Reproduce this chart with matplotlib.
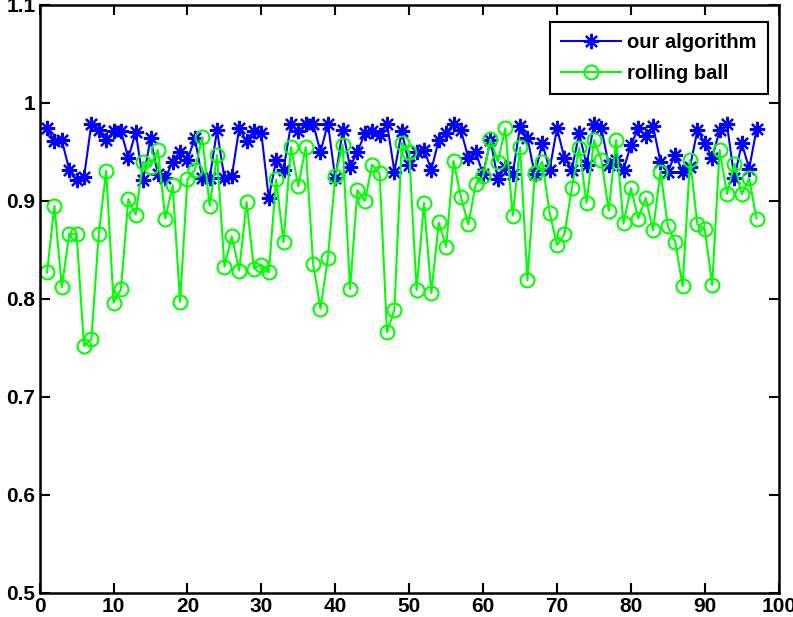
import numpy as np
import matplotlib

matplotlib.use("Agg")
import matplotlib.pyplot as plt

# sample index 1..97
frames = list(range(1, 98))

our_algorithm = [
    0.974, 0.961, 0.962, 0.932, 0.921, 0.924, 0.979, 0.972, 0.962, 0.971,
    0.971, 0.944, 0.970, 0.921, 0.964, 0.927, 0.923, 0.940, 0.950, 0.942,
    0.964, 0.923, 0.923, 0.972, 0.923, 0.925, 0.974, 0.961, 0.971, 0.969,
    0.903, 0.942, 0.932, 0.978, 0.971, 0.978, 0.979, 0.950, 0.979, 0.923,
    0.972, 0.935, 0.950, 0.969, 0.971, 0.967, 0.979, 0.930, 0.971, 0.937,
    0.950, 0.952, 0.932, 0.962, 0.969, 0.979, 0.972, 0.944, 0.950, 0.927,
    0.962, 0.922, 0.935, 0.927, 0.976, 0.964, 0.927, 0.959, 0.932, 0.974,
    0.944, 0.932, 0.969, 0.937, 0.978, 0.974, 0.937, 0.942, 0.932, 0.957,
    0.974, 0.966, 0.976, 0.940, 0.930, 0.947, 0.930, 0.935, 0.972, 0.959,
    0.944, 0.972, 0.978, 0.923, 0.959, 0.933, 0.973,
]

rolling_ball = [
    0.827, 0.895, 0.812, 0.866, 0.866, 0.752, 0.759, 0.866, 0.931, 0.796,
    0.810, 0.902, 0.886, 0.940, 0.935, 0.952, 0.882, 0.916, 0.797, 0.922,
    0.932, 0.965, 0.895, 0.947, 0.833, 0.864, 0.829, 0.899, 0.831, 0.835,
    0.827, 0.922, 0.858, 0.955, 0.915, 0.955, 0.836, 0.790, 0.842, 0.925,
    0.957, 0.810, 0.911, 0.900, 0.937, 0.928, 0.766, 0.789, 0.959, 0.950,
    0.809, 0.898, 0.806, 0.878, 0.853, 0.941, 0.904, 0.876, 0.917, 0.925,
    0.963, 0.940, 0.974, 0.885, 0.955, 0.819, 0.928, 0.940, 0.888, 0.855,
    0.866, 0.913, 0.954, 0.898, 0.962, 0.942, 0.890, 0.962, 0.877, 0.913,
    0.882, 0.903, 0.870, 0.930, 0.874, 0.858, 0.813, 0.942, 0.876, 0.871,
    0.814, 0.952, 0.907, 0.938, 0.907, 0.923, 0.882,
]

x_ticks = [0, 10, 20, 30, 40, 50, 60, 70, 80, 90, 100]
y_ticks = [0.5, 0.6, 0.7, 0.8, 0.9, 1.0, 1.1]
y_labels = ["0.5", "0.6", "0.7", "0.8", "0.9", "1", "1.1"]

plt.rcParams["font.family"] = ["Liberation Sans Narrow", "Liberation Sans", "DejaVu Sans"]
plt.rcParams["font.weight"] = "bold"

fig = plt.figure(figsize=(7.93, 6.17), dpi=100)
ax = fig.add_axes([0.05, 0.039, 0.932, 0.953])

# matlab style '*' marker: eight spokes
ax.plot(frames, our_algorithm, color="#0000ff", lw=1.5, marker=(8, 2, 0),
        ms=11, mew=1.6, label="our algorithm")
ax.plot(frames, rolling_ball, color="#00ff00", lw=1.5, marker="o",
        ms=10, mfc="none", mew=1.5, label="rolling ball")

ax.set_xlim(0, 100)
ax.set_ylim(0.5, 1.1)
ax.set_xticks(x_ticks)
ax.set_yticks(y_ticks)
ax.set_yticklabels(y_labels)
ax.tick_params(direction="in", length=7, width=1.5, top=True, right=True,
               labelsize=15, pad=3)
for s in ax.spines.values():
    s.set_linewidth(1.8)

leg = ax.legend(loc="upper right", bbox_to_anchor=(0.985, 0.971),
                borderaxespad=0, fontsize=14.5, handlelength=3.0,
                fancybox=False, edgecolor="black", framealpha=1,
                labelspacing=0.6, borderpad=0.55, handletextpad=0.3)
leg.get_frame().set_linewidth(1.5)

fig.savefig("out.png", dpi=100)
plt.close(fig)
